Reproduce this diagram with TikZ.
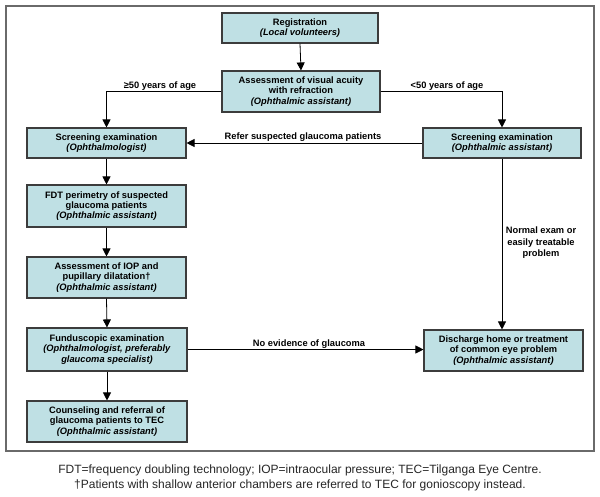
\documentclass[tikz,border=0pt]{standalone}
\usepackage{fontspec}
\setmainfont{Liberation Sans}
\usetikzlibrary{arrows.meta}
\definecolor{boxfill}{HTML}{BFE0E4}
\definecolor{boxline}{HTML}{3C3C3C}
\definecolor{frameline}{HTML}{6A6A6A}
\tikzset{
  stepbox/.style={draw=boxline, line width=1.1pt, fill=boxfill, align=center,
    font=\fontsize{9.3}{10.4}\selectfont\bfseries, inner sep=0.5pt, anchor=center},
  flow/.style={draw=black, line width=0.8pt, -{Triangle[length=8pt,width=8pt]}},
  lab/.style={font=\fontsize{9.3}{11.5}\selectfont\bfseries, align=center, inner sep=1pt}
}
\begin{document}
\begin{tikzpicture}[x=1pt,y=-1pt]
\useasboundingbox (0,0) rectangle (600,496);
\node[draw=frameline, line width=1.3pt, minimum width=588pt, minimum height=445pt, inner sep=0pt] (frame) at (300,228.5) {};
\node[stepbox, minimum width=156pt, minimum height=30pt] (reg) at (300,28) {Registration\\\textit{(Local volunteers)}};
\node[stepbox, minimum width=158pt, minimum height=41pt] (assess) at (301,91.5) {Assessment of visual acuity\\with refraction\\\textit{(Ophthalmic assistant)}};
\node[stepbox, minimum width=159pt, minimum height=30pt] (scrL) at (106.5,143) {Screening examination\\\textit{(Ophthalmologist)}};
\node[stepbox, minimum width=158pt, minimum height=30pt] (scrR) at (502,143) {Screening examination\\\textit{(Ophthalmic assistant)}};
\node[stepbox, minimum width=159pt, minimum height=42pt] (fdt) at (106.5,206) {FDT perimetry of suspected\\glaucoma patients\\\textit{(Ophthalmic assistant)}};
\node[stepbox, minimum width=159pt, minimum height=41pt] (iop) at (106.5,277.5) {Assessment of IOP and\\pupillary dilatation†\\\textit{(Ophthalmic assistant)}};
\node[stepbox, minimum width=160pt, minimum height=43pt] (fund) at (107,349.5) {Funduscopic examination\\\textit{(Ophthalmologist, preferably}\\\textit{glaucoma specialist)}};
\node[stepbox, minimum width=160pt, minimum height=41pt] (couns) at (107,421.5) {Counseling and referral of\\glaucoma patients to TEC\\\textit{(Ophthalmic assistant)}};
\node[stepbox, minimum width=159pt, minimum height=41pt] (disch) at (503.5,350.5) {Discharge home or treatment\\of common eye problem\\\textit{(Ophthalmic assistant)}};

\draw[flow] (reg.south) -- (assess.north);
\draw[flow] (assess.west) -| (scrL.north);
\draw[flow] (assess.east) -| (scrR.north);
\draw[flow] (scrR.west) -- (scrL.east);
\draw[flow] (scrL.south) -- (fdt.north);
\draw[flow] (fdt.south) -- (iop.north);
\draw[flow] (iop.south) -- (fund.north);
\draw[flow] (fund.south) -- (couns.north);
\draw[flow] (scrR.south) -- (scrR.south |- disch.north);
\draw[flow] (fund.east) -- (fund.east -| disch.west);

\node[lab, anchor=south] (l50a) at (160,91.5) {≥50 years of age};
\node[lab, anchor=south] (l50b) at (447,91.5) {<50 years of age};
\node[lab, anchor=south] (lref) at (303,143) {Refer suspected glaucoma patients};
\node[lab] (lnorm) at (541,243) {Normal exam or\\easily treatable\\problem};
\node[lab, anchor=south] (lno) at (309,350) {No evidence of glaucoma};

\node[font=\fontsize{12}{15.5}\selectfont, align=center, text=black!85] (cap) at (300,478) {FDT=frequency doubling technology; IOP=intraocular pressure; TEC=Tilganga Eye Centre.\\†Patients with shallow anterior chambers are referred to TEC for gonioscopy instead.};
\end{tikzpicture}
\end{document}
